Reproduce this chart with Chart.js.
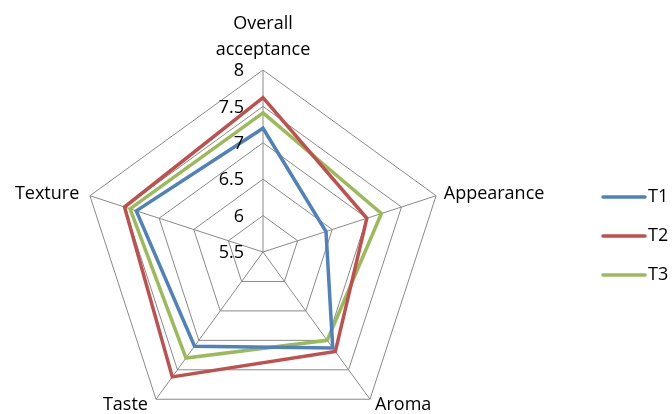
<!DOCTYPE html>
<html>
<head>
<meta charset="utf-8">
<script src="https://cdn.jsdelivr.net/npm/chart.js@4.4.0/dist/chart.umd.min.js"></script>
<style>
html,body{margin:0;padding:0;background:#fff;}
#c{display:block;}
</style>
</head>
<body>
<canvas id="c" width="672" height="414"></canvas>
<script>
const categories = [["Overall","acceptance"], "Appearance", "Aroma", "Taste", "Texture"];
const seriesNames = ["T1", "T2", "T3"];
const t1 = [7.2, 6.41, 7.13, 7.1, 7.33];
const t2 = [7.62, 7.0, 7.19, 7.62, 7.5];
const t3 = [7.41, 7.21, 7.0, 7.3, 7.42];
const tickLabels = ["5.5", "6", "6.5", "7", "7.5", "8"];
const colors = ["#4F81BD", "#C0504D", "#9BBB59"];

const FONT = '18px "Open Sans", sans-serif';

const labelPlugin = {
  id: 'labels',
  afterDraw(chart) {
    const ctx = chart.ctx;
    const s = chart.scales.r;
    ctx.save();
    ctx.fillStyle = '#000';
    ctx.font = FONT;
    // tick labels (left of top axis, right-aligned)
    ctx.textAlign = 'right';
    ctx.textBaseline = 'middle';
    s.ticks.forEach((t, i) => {
      const d = s.getDistanceFromCenterForValue(t.value);
      ctx.fillText(tickLabels[i], s.xCenter - 19, s.yCenter - d + 1);
    });
    // point labels
    categories.forEach((c, i) => {
      const p = s.getPointPosition(i, s.drawingArea + 7);
      const lines = Array.isArray(c) ? c : [c];
      if (Math.abs(p.x - s.xCenter) < 2) {
        ctx.textAlign = 'center';
        ctx.textBaseline = 'alphabetic';
        const lh = 26;
        lines.forEach((ln, k) => {
          ctx.fillText(ln, p.x, p.y - 8 - (lines.length - 1 - k) * lh);
        });
      } else {
        ctx.textAlign = p.x > s.xCenter ? 'left' : 'right';
        ctx.textBaseline = 'middle';
        const dx = p.x > s.xCenter ? 1 : -4;
        ctx.fillText(lines[0], p.x + dx, p.y);
      }
    });
    // legend
    const lx0 = 603, lx1 = 645, ly0 = 197, lgap = 39;
    chart.data.datasets.forEach((ds, i) => {
      const y = ly0 + i * lgap;
      ctx.strokeStyle = ds.borderColor;
      ctx.lineWidth = 3.5;
      ctx.lineCap = 'round';
      ctx.beginPath();
      ctx.moveTo(lx0, y);
      ctx.lineTo(lx1, y);
      ctx.stroke();
      ctx.textAlign = 'left';
      ctx.textBaseline = 'middle';
      ctx.fillText(ds.label, lx1 + 3, y);
    });
    ctx.restore();
  }
};

new Chart(document.getElementById('c'), {
  type: 'radar',
  data: {
    labels: categories,
    datasets: [t1, t2, t3].map((d, i) => ({
      label: seriesNames[i],
      data: d,
      borderColor: colors[i],
      backgroundColor: 'transparent',
      borderWidth: 3.5,
      pointRadius: 0,
      pointHoverRadius: 0,
      fill: false,
      tension: 0
    }))
  },
  options: {
    responsive: false,
    animation: false,
    devicePixelRatio: 1,
    plugins: { legend: { display: false }, tooltip: { enabled: false } },
    scales: {
      r: {
        min: 5.5,
        max: 8,
        ticks: { stepSize: 0.5, display: false },
        pointLabels: { display: false },
        grid: { color: '#8a8a8a', lineWidth: 1 },
        angleLines: { color: '#8a8a8a', lineWidth: 1 },
        afterFit(scale) {
          scale.xCenter = 263;
          scale.yCenter = 252;
          scale.drawingArea = 182;
        }
      }
    }
  },
  plugins: [labelPlugin]
});
</script>
</body>
</html>
